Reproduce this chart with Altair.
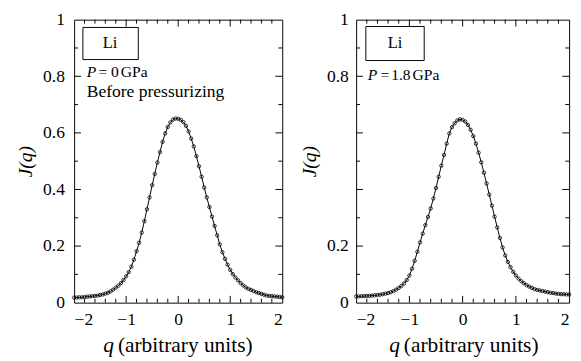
import altair as alt
import pandas as pd

# ---------------- data ----------------
Q = [-2.00, -1.95, -1.90, -1.85, -1.80, -1.75, -1.70, -1.65, -1.60, -1.55,
     -1.50, -1.45, -1.40, -1.35, -1.30, -1.25, -1.20, -1.15, -1.10, -1.05,
     -1.00, -0.95, -0.90, -0.85, -0.80, -0.75, -0.70, -0.65, -0.60, -0.55,
     -0.50, -0.45, -0.40, -0.35, -0.30, -0.25, -0.20, -0.15, -0.10, -0.05,
     0.00, 0.05, 0.10, 0.15, 0.20, 0.25, 0.30, 0.35, 0.40, 0.45,
     0.50, 0.55, 0.60, 0.65, 0.70, 0.75, 0.80, 0.85, 0.90, 0.95,
     1.00, 1.05, 1.10, 1.15, 1.20, 1.25, 1.30, 1.35, 1.40, 1.45,
     1.50, 1.55, 1.60, 1.65, 1.70, 1.75, 1.80, 1.85, 1.90, 1.95, 2.00]

J_0GPA = [0.018, 0.018, 0.019, 0.019, 0.020, 0.021, 0.022, 0.023, 0.024, 0.025,
          0.027, 0.029, 0.032, 0.035, 0.040, 0.046, 0.053, 0.060, 0.069, 0.080,
          0.093, 0.108, 0.127, 0.152, 0.182, 0.212, 0.248, 0.288, 0.330, 0.372,
          0.415, 0.455, 0.495, 0.532, 0.568, 0.598, 0.621, 0.637, 0.647, 0.651,
          0.650, 0.646, 0.638, 0.625, 0.605, 0.580, 0.552, 0.518, 0.482, 0.445,
          0.407, 0.372, 0.338, 0.304, 0.271, 0.238, 0.206, 0.178, 0.155, 0.134,
          0.116, 0.101, 0.089, 0.079, 0.069, 0.061, 0.054, 0.049, 0.045, 0.041,
          0.037, 0.034, 0.031, 0.028, 0.025, 0.024, 0.023, 0.022, 0.021, 0.020, 0.019]

J_18GPA = [0.022, 0.022, 0.023, 0.023, 0.024, 0.024, 0.025, 0.026, 0.027, 0.028,
           0.030, 0.032, 0.034, 0.037, 0.041, 0.046, 0.052, 0.059, 0.068, 0.080,
           0.096, 0.120, 0.148, 0.180, 0.213, 0.244, 0.274, 0.303, 0.333, 0.368,
           0.405, 0.445, 0.484, 0.522, 0.562, 0.598, 0.620, 0.634, 0.644, 0.648,
           0.646, 0.640, 0.628, 0.611, 0.589, 0.562, 0.530, 0.496, 0.459, 0.421,
           0.382, 0.343, 0.304, 0.266, 0.229, 0.195, 0.167, 0.144, 0.125, 0.109,
           0.096, 0.085, 0.076, 0.069, 0.062, 0.057, 0.052, 0.048, 0.045, 0.043,
           0.041, 0.039, 0.037, 0.035, 0.034, 0.032, 0.031, 0.030, 0.030, 0.029, 0.029]

X_LABELS = [-2, -1, 0, 1, 2]
X_MAJOR = [-1, 0, 1]
X_MINOR = [-1.8, -1.6, -1.4, -1.2, -0.8, -0.6, -0.4, -0.2,
           0.2, 0.4, 0.6, 0.8, 1.2, 1.4, 1.6, 1.8]
Y_MAJOR = [0.2, 0.4, 0.6, 0.8]
Y_MINOR = [0.1, 0.3, 0.5, 0.7, 0.9]
Y_LABELS_LEFT = [0, 0.2, 0.4, 0.6, 0.8, 1]
Y_LABELS_RIGHT = [0, 0.2, 0.8, 1]

FONT = "Liberation Serif"
H = 291
W_LEFT, W_RIGHT = 214, 219
MAJ, MIN = 7, 4
ONE = pd.DataFrame({"a": [0]})


def ticks(width):
    layers = []
    for vals, L in ((X_MAJOR, MAJ), (X_MINOR, MIN)):
        d = pd.DataFrame({"q": vals})
        layers.append(alt.Chart(d).mark_rule(color="black", strokeWidth=1).encode(
            x="q:Q", y=alt.value(H), y2=alt.value(H - L)))
        layers.append(alt.Chart(d).mark_rule(color="black", strokeWidth=1).encode(
            x="q:Q", y=alt.value(0), y2=alt.value(L)))
    for vals, L in ((Y_MAJOR, MAJ), (Y_MINOR, MIN)):
        d = pd.DataFrame({"J": vals})
        layers.append(alt.Chart(d).mark_rule(color="black", strokeWidth=1).encode(
            y="J:Q", x=alt.value(0), x2=alt.value(L)))
        layers.append(alt.Chart(d).mark_rule(color="black", strokeWidth=1).encode(
            y="J:Q", x=alt.value(width), x2=alt.value(width - L)))
    return layers


def text(t, x, y, align="left", style="normal", size=18, baseline="alphabetic"):
    return alt.Chart(ONE).mark_text(
        text=t, font=FONT, fontSize=size, fontStyle=style, align=align,
        baseline=baseline, color="black").encode(x=alt.value(x), y=alt.value(y))


def panel(J, width, ylabels, label_pad, title_pad, box, li, p_parts, p_y,
          extra=None, qtitle_x=45):
    df = pd.DataFrame({"q": Q, "J": J})
    xs = alt.X("q:Q", scale=alt.Scale(domain=[-2, 2], nice=False, zero=False),
               axis=alt.Axis(values=X_LABELS, format="d", labelPadding=8, title=None,
                             labelFont=FONT, labelFontSize=18))
    ys = alt.Y("J:Q", scale=alt.Scale(domain=[0, 1], nice=False, zero=False),
               axis=alt.Axis(values=ylabels, format="~g", labelPadding=label_pad,
                             labelFont=FONT, labelFontSize=18,
                             title="J(q)", titleFont=FONT, titleFontSize=20,
                             titleFontStyle="italic", titlePadding=title_pad))
    base = alt.Chart(df).encode(x=xs, y=ys)
    line = base.mark_line(color="black", strokeWidth=1)
    pts = base.mark_point(shape="circle", filled=False, size=12, color="black",
                          strokeWidth=0.8, opacity=1)
    rect = alt.Chart(ONE).mark_rect(fillOpacity=0, stroke="black", strokeWidth=1).encode(
        x=alt.value(box[0]), x2=alt.value(box[1]), y=alt.value(box[2]), y2=alt.value(box[3]))
    layers = [line, pts] + ticks(width) + [
        rect,
        text("Li", li[0], li[1], align="center", size=17, baseline="middle"),
    ]
    for i, (t, x) in enumerate(p_parts):
        layers.append(text(t, x, p_y, style="italic" if i == 0 else "normal", size=16))
    layers += [
        text("q", qtitle_x - 4, 342, align="right", style="italic", size=22),
        text("(arbitrary units)", qtitle_x, 342, size=22),
    ]
    if extra:
        layers.append(extra)
    return alt.layer(*layers).properties(width=width, height=H)


left = panel(J_0GPA, W_LEFT, Y_LABELS_LEFT, 10, 7,
             box=(9, 66, 8, 41), li=(37, 24),
             p_parts=[("P", 13), ("=", 25), ("0", 38), ("GPa", 48)], p_y=59,
             extra=text("Before pressurizing", 13, 79), qtitle_x=45)
right = panel(J_18GPA, W_RIGHT, Y_LABELS_RIGHT, 8, 7,
              box=(10, 70, 7, 42), li=(40, 24),
              p_parts=[("P", 12), ("=", 25), ("1.8", 36), ("GPa", 58)], p_y=62,
              qtitle_x=49)

chart = alt.hconcat(left, right, spacing=76, bounds="flush").properties(
    padding={"left": 8, "top": -3, "right": 0, "bottom": 0}
).configure_view(stroke="black", strokeWidth=1).configure_axis(
    grid=False, domain=False, ticks=False,
    labelFont=FONT, labelFontSize=18, labelColor="black",
    titleFont=FONT, titleFontSize=20, titleColor="black", titleFontWeight="normal",
)

chart.save("out.html", embed_options={"renderer": "svg", "actions": False})
